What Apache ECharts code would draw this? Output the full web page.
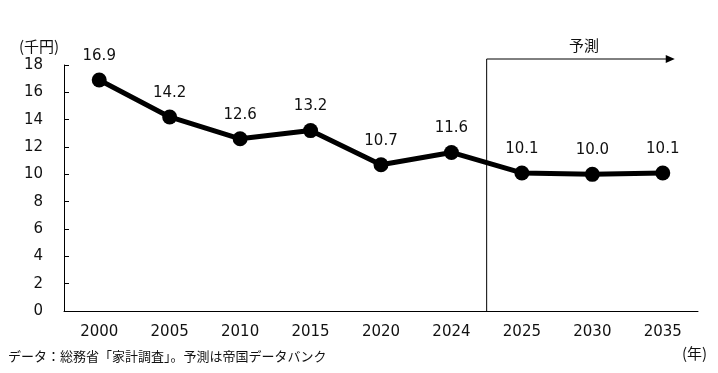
<!DOCTYPE html>
<html><head><meta charset="utf-8">
<script src="https://cdn.jsdelivr.net/npm/echarts@6/dist/echarts.min.js"></script>
<style>html,body{margin:0;padding:0;background:#fff}#c{width:718px;height:373px}</style>
</head><body><div id="c"></div>
<script>
const categories = ['2000','2005','2010','2015','2020','2024','2025','2030','2035'];
const values = [16.9, 14.2, 12.6, 13.2, 10.7, 11.6, 10.1, 10.0, 10.1];
const yTicks = {min: 0, max: 18, interval: 2};
const forecastFrom = '2025';
const lastActual = '2024';

const numFont = '"DejaVu Sans", Verdana, sans-serif';
const jpFont = '"Noto Sans CJK JP", sans-serif';
const chart = echarts.init(document.getElementById('c'));
chart.setOption({
  animation: false,
  grid: {left: 64, right: 20, top: 65, bottom: 62},
  xAxis: {
    type: 'category', data: categories,
    axisLine: {lineStyle: {color: '#000', width: 1}},
    axisTick: {inside: true, length: 5, lineStyle: {color: '#000'}},
    axisLabel: {color: '#111', fontSize: 15, fontFamily: numFont, margin: 14}
  },
  yAxis: {
    type: 'value', min: yTicks.min, max: yTicks.max, interval: yTicks.interval,
    axisLine: {show: true, lineStyle: {color: '#000', width: 1}},
    axisTick: {show: true, inside: true, length: 5, lineStyle: {color: '#000'}},
    splitLine: {show: false},
    axisLabel: {color: '#111', fontSize: 15, fontFamily: numFont, margin: 21}
  },
  series: [{
    type: 'line', data: values,
    lineStyle: {color: '#000', width: 5},
    itemStyle: {color: '#000'},
    symbol: 'circle', symbolSize: 15,
    label: {show: true, position: 'top', distance: 9, color: '#111', fontSize: 15, fontFamily: numFont,
      formatter: p => p.value.toFixed(1)}
  }]
});
const xa = chart.convertToPixel({xAxisIndex: 0}, lastActual);
const xb = chart.convertToPixel({xAxisIndex: 0}, forecastFrom);
const xSplit = (xa + xb) / 2;
const yBottom = chart.convertToPixel({yAxisIndex: 0}, yTicks.min);
const yTop = chart.convertToPixel({yAxisIndex: 0}, yTicks.max) - 6;
const xEnd = chart.convertToPixel({xAxisIndex: 0}, categories[categories.length-1]) + 12;
chart.setOption({
  graphic: [
    {type: 'line', shape: {x1: xSplit, y1: yBottom, x2: xSplit, y2: yTop}, style: {stroke: '#000', lineWidth: 1}},
    {type: 'line', shape: {x1: xSplit, y1: yTop, x2: xEnd - 8, y2: yTop}, style: {stroke: '#000', lineWidth: 1}},
    {type: 'polygon', shape: {points: [[xEnd, yTop], [xEnd - 9, yTop - 4], [xEnd - 9, yTop + 4]]}, style: {fill: '#000'}},
    {type: 'text', x: 584, y: yTop - 14, style: {text: '予測', font: '15px ' + jpFont, fill: '#111', align: 'center', verticalAlign: 'middle'}},
    {type: 'text', x: 19, y: 46, style: {text: '(千円)', font: '15px ' + jpFont, fill: '#111', align: 'left', verticalAlign: 'middle'}},
    {type: 'text', x: 682, y: 353, style: {text: '(年)', font: '15px ' + jpFont, fill: '#111', align: 'left', verticalAlign: 'middle'}},
    {type: 'text', x: 8, y: 356, style: {text: 'データ：総務省「家計調査」。予測は帝国データバンク', font: '13px ' + jpFont, fill: '#111', align: 'left', verticalAlign: 'middle'}}
  ]
});
</script></body></html>
